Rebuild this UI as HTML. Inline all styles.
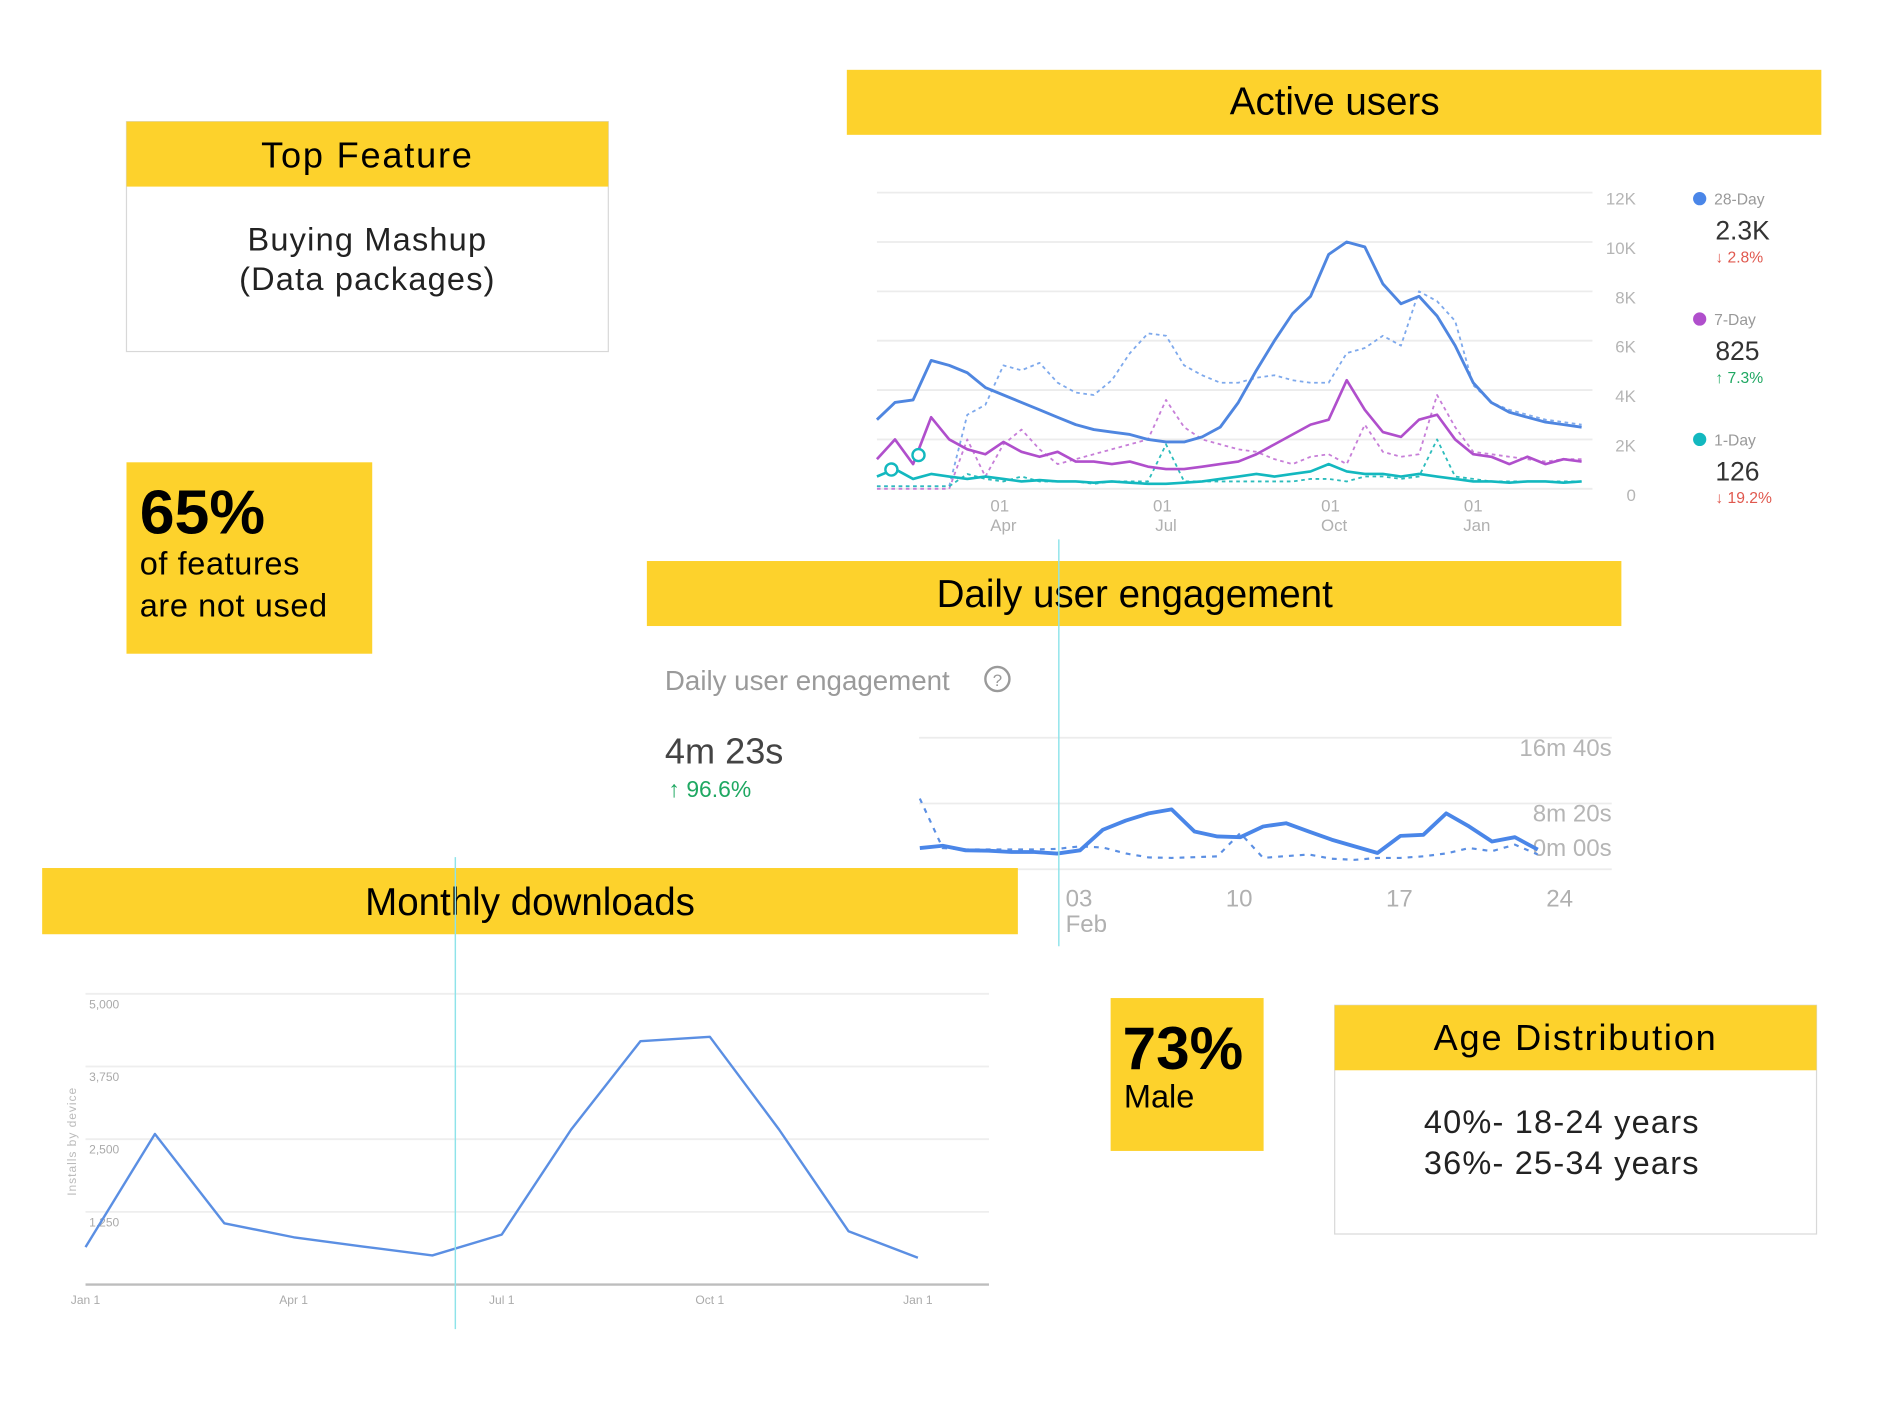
<!DOCTYPE html>
<html><head><meta charset="utf-8"><style>
html,body{margin:0;padding:0;background:#fff;}
svg{display:block;font-family:"Liberation Sans",sans-serif;}
</style></head><body>
<svg id="root" width="1890" height="1417" viewBox="0 0 1569 1177" preserveAspectRatio="none">
<rect width="1569" height="1177" fill="#fff"/>
<!-- Top feature -->
<g>
<rect x="105" y="101" width="400" height="191" fill="#fff" stroke="#d8d8d8"/>
<rect x="105" y="101" width="400" height="54" fill="#fdd22c"/>
<text x="305" y="139" font-size="30" text-anchor="middle" letter-spacing="1.5">Top Feature</text>
<text x="305" y="208" font-size="27" text-anchor="middle" letter-spacing="1" fill="#222">Buying Mashup</text>
<text x="305" y="241" font-size="27" text-anchor="middle" letter-spacing="1" fill="#222">(Data packages)</text>
</g>
<g>
<rect x="105" y="384" width="204" height="159" fill="#fdd22c"/>
<text x="116" y="443" font-size="52" font-weight="bold">65%</text>
<text x="116" y="477" font-size="27" letter-spacing="0.5">of features</text>
<text x="116" y="512" font-size="27" letter-spacing="0.5">are not used</text>
</g>
<!-- Active users -->
<rect x="703" y="58" width="809" height="54" fill="#fdd22c"/>
<text x="1108" y="95" font-size="32" text-anchor="middle">Active users</text>
<g id="au"></g>
<!-- Daily engagement -->
<rect x="537" y="466" width="809" height="54" fill="#fdd22c"/>
<text x="942" y="504" font-size="32" text-anchor="middle">Daily user engagement</text>
<text x="552" y="573" font-size="23" fill="#9a9a9a">Daily user engagement</text>
<circle cx="828" cy="564" r="10" fill="none" stroke="#9a9a9a" stroke-width="2"/>
<text x="828" y="570" font-size="14" fill="#9a9a9a" text-anchor="middle">?</text>
<text x="552" y="634" font-size="30" fill="#444">4m 23s</text>
<text x="555" y="662" font-size="19" fill="#1fa862">↑ 96.6%</text>
<g id="de"></g>
<!-- Monthly downloads -->
<rect x="35" y="721" width="810" height="55" fill="#fdd22c"/>
<text x="440" y="760" font-size="32" text-anchor="middle">Monthly downloads</text>
<g id="md"></g>
<line x1="879" y1="448" x2="879" y2="786" stroke="#8ee3ea" stroke-width="1.2"/>
<line x1="378" y1="712" x2="378" y2="1104" stroke="#8ee3ea" stroke-width="1.2"/>
<!-- 73% -->
<g>
<rect x="922" y="829" width="127" height="127" fill="#fdd22c"/>
<text x="932" y="888" font-size="50" font-weight="bold">73%</text>
<text x="933" y="920" font-size="27">Male</text>
</g>
<g>
<rect x="1108" y="835" width="400" height="190" fill="#fff" stroke="#d8d8d8"/>
<rect x="1108" y="835" width="400" height="54" fill="#fdd22c"/>
<text x="1308" y="872" font-size="30" text-anchor="middle" letter-spacing="1.5">Age Distribution</text>
<text x="1182" y="941" font-size="27" letter-spacing="1" fill="#222">40%- 18-24 years</text>
<text x="1182" y="975" font-size="27" letter-spacing="1" fill="#222">36%- 25-34 years</text>
</g>
</svg>
<script>
const NS="http://www.w3.org/2000/svg";
// ---- Active users data (thousands) ----
const auYTicks=[0,2,4,6,8,10,12];
const auYLabels=["0","2K","4K","6K","8K","10K","12K"];
const auXTickIdx=[6.8,15.8,25.1,33];
const auXTickDay=["01","01","01","01"];
const auXTickMon=["Apr","Jul","Oct","Jan"];
const au28=[2.8,3.5,3.6,5.2,5.0,4.7,4.1,3.8,3.5,3.2,2.9,2.6,2.4,2.3,2.2,2.0,1.9,1.9,2.1,2.5,3.5,4.8,6.0,7.1,7.8,9.5,10.0,9.8,8.3,7.5,7.8,7.0,5.8,4.3,3.5,3.1,2.9,2.7,2.6,2.5];
const au28Prev=[0.1,0.1,0.1,0.1,0.1,3.0,3.4,5.0,4.8,5.1,4.3,3.9,3.8,4.4,5.5,6.3,6.2,5.0,4.6,4.3,4.3,4.5,4.6,4.4,4.3,4.3,5.5,5.7,6.2,5.8,8.0,7.6,6.8,4.2,3.5,3.2,3.0,2.8,2.7,2.6];
const au7=[1.2,2.0,1.0,2.9,2.0,1.6,1.4,1.9,1.5,1.3,1.5,1.1,1.1,1.0,1.1,0.9,0.8,0.8,0.9,1.0,1.1,1.4,1.8,2.2,2.6,2.8,4.4,3.2,2.3,2.1,2.8,3.0,2.0,1.4,1.3,1.0,1.3,1.0,1.2,1.1];
const au7Prev=[0,0,0,0,0,2.0,0.5,1.8,2.4,1.6,1.0,1.2,1.4,1.6,1.8,2.0,3.6,2.5,2.0,1.8,1.6,1.5,1.2,1.0,1.3,1.4,1.0,2.6,1.5,1.3,1.4,3.8,2.5,1.5,1.4,1.3,1.2,1.1,1.2,1.2];
const au1=[0.5,0.8,0.4,0.6,0.5,0.4,0.5,0.4,0.3,0.35,0.3,0.3,0.25,0.3,0.25,0.2,0.2,0.25,0.3,0.4,0.5,0.6,0.5,0.6,0.7,1.0,0.7,0.6,0.6,0.5,0.6,0.5,0.4,0.3,0.3,0.25,0.3,0.3,0.25,0.3];
const au1Prev=[0.1,0.1,0.1,0.1,0.1,0.6,0.4,0.3,0.5,0.3,0.3,0.3,0.2,0.3,0.3,0.3,1.8,0.3,0.3,0.3,0.3,0.3,0.3,0.3,0.4,0.4,0.3,0.5,0.5,0.4,0.5,2.0,0.5,0.4,0.3,0.3,0.3,0.3,0.3,0.3];
// ---- Engagement data (seconds) ----
const deYTicks=[0,500,1000];
const deYLabels=["0m 00s","8m 20s","16m 40s"];
const deXTickIdx=[7,14,21,28];
const deXLabels=["03","10","17","24"];
const deCur=[161,179,144,141,131,131,119,144,300,370,425,455,287,249,244,325,350,287,224,174,124,254,262,425,325,211,244,149];
const dePrev=[538,161,150,150,150,150,155,174,165,120,90,86,92,98,275,86,100,112,80,71,86,86,98,120,161,137,187,112];
// ---- Monthly downloads ----
const mdMonths=["Jan","Feb","Mar","Apr","May","Jun","Jul","Aug","Sep","Oct","Nov","Dec","Jan"];
const mdValues=[644,2591,1054,814,655,501,860,2665,4186,4260,2665,917,461];
const mdYTicks=[0,1250,2500,3750,5000];
const mdYLabels=["","1,250","2,500","3,750","5,000"];
const mdXTickIdx=[0,3,6,9,12];
const mdXLabels=["Jan 1","Apr 1","Jul 1","Oct 1","Jan 1"];

function mk(tag,attrs,parent){const e=document.createElementNS(NS,tag);for(const k in attrs)e.setAttribute(k,attrs[k]);parent.appendChild(e);return e;}
function pathD(arr,xf,yf){return arr.map((v,i)=>(i?"L":"M")+xf(i).toFixed(1)+","+yf(v).toFixed(1)).join("");}

// Active users chart
(function(){
const g=document.getElementById("au");
const x=i=>728+i*(1313-728)/(au28.length-1);
const y=v=>406-v/2*41;
auYTicks.forEach((t,k)=>{
 const l=mk("line",{x1:728,x2:1322,y1:y(t),y2:y(t),stroke:"#ececec","stroke-width":1.5},g);
 
 
 const tx=mk("text",{x:1358,y:y(t)+10,"font-size":14,fill:"#b5b5b5","text-anchor":"end"},g);tx.textContent=auYLabels[k];
 
 
});
auXTickIdx.forEach((t,k)=>{
 const a=mk("text",{x:x(t),y:425,"font-size":14,fill:"#b0b0b0","text-anchor":"middle"},g);a.textContent=auXTickDay[k];
 
 
 const b=mk("text",{x:x(t)+3,y:441,"font-size":14,fill:"#b0b0b0","text-anchor":"middle"},g);b.textContent=auXTickMon[k];
 
 
});
const series=[[au28Prev,"#7ea9ec","3,3",1.5,"28-day-previous-line"],[au7Prev,"#c77ed8","3,3",1.5,"7-day-previous-line"],[au1Prev,"#2cbcbc","3,3",1.5,"1-day-previous-line"],[au1,"#13b8bf",null,2.2,"1-day-line"],[au7,"#b04fcc",null,2.2,"7-day-line"],[au28,"#4f86e0",null,2.4,"28-day-line"]];
series.forEach(s=>{
 const a={d:pathD(s[0],x,y),fill:"none",stroke:s[1],"stroke-width":s[3],"stroke-linejoin":"round"};
 if(s[2])a["stroke-dasharray"]=s[2];
 const p=mk("path",a,g);
 
 
});
const c1=mk("circle",{cx:x(0.8),cy:390,r:5,fill:"#fff",stroke:"#13b8bf","stroke-width":2},g);


const c2=mk("circle",{cx:x(2.3),cy:378,r:5,fill:"#fff",stroke:"#13b8bf","stroke-width":2},g);


const leg=[["28-Day","#4a86e8","2.3K","↓ 2.8%","#e0584e",165],["7-Day","#b04fcc","825","↑ 7.3%","#1fa862",265],["1-Day","#13b8bf","126","↓ 19.2%","#e0584e",365]];
leg.forEach(l=>{
 const lg=mk("g",{},g);
 
 
 mk("circle",{cx:1411,cy:l[5],r:5.5,fill:l[1]},lg);
 const a=mk("text",{x:1423,y:l[5]+5,"font-size":13,fill:"#999"},lg);a.textContent=l[0];
 const b=mk("text",{x:1424,y:l[5]+34,"font-size":22,fill:"#333"},lg);b.textContent=l[2];
 const c=mk("text",{x:1424,y:l[5]+53,"font-size":13,fill:l[4]},lg);c.textContent=l[3];
});
})();

// Engagement chart
(function(){
const g=document.getElementById("de");
const x=i=>763.6+i*19;
const y=v=>722-v/500*54.6;
deYTicks.forEach((t,k)=>{
 const l=mk("line",{x1:763,x2:1338,y1:y(t),y2:y(t),stroke:"#ececec","stroke-width":1.5},g);
 
 
 const ly=k==0?711:y(t)+15;
 const tx=mk("text",{x:1338,y:ly,"font-size":20,fill:"#b5b5b5","text-anchor":"end"},g);tx.textContent=deYLabels[k];
 
 
});
deXTickIdx.forEach((t,k)=>{
 const tx=mk("text",{x:x(t)-12,y:753,"font-size":20,fill:"#b0b0b0"},g);tx.textContent=deXLabels[k];
 
 
});
const fb=mk("text",{x:x(7)-12,y:774,"font-size":20,fill:"#b0b0b0"},g);fb.textContent="Feb";


const p1=mk("path",{d:pathD(dePrev,x,y),fill:"none",stroke:"#5b8fe3","stroke-width":1.8,"stroke-dasharray":"4,5"},g);


const p2=mk("path",{d:pathD(deCur,x,y),fill:"none",stroke:"#4a86e8","stroke-width":3.2,"stroke-linejoin":"round"},g);


})();

// Monthly downloads chart
(function(){
const g=document.getElementById("md");
const x=i=>71+i*(762-71)/12;
const y=v=>1067-v/5000*(1067-825.5);
mdYTicks.forEach((t,k)=>{
 const l=mk("line",{x1:71,x2:821,y1:y(t),y2:y(t),stroke:k==0?"#bdbdbd":"#eeeeee","stroke-width":k==0?2:1.5},g);
 
 
 const tx=mk("text",{x:74,y:y(t)+12,"font-size":10,fill:"#aaa"},g);tx.textContent=mdYLabels[k];
 
 
});
mdXTickIdx.forEach((t,k)=>{
 const tx=mk("text",{x:x(t),y:1083,"font-size":10,fill:"#aaa","text-anchor":"middle"},g);tx.textContent=mdXLabels[k];
 
 
});
const yt=mk("text",{x:0,y:0,"font-size":10,fill:"#bbb","text-anchor":"middle","letter-spacing":"0.8",transform:"translate(63,948) rotate(-90)"},g);
yt.textContent="Installs by device";


const p=mk("path",{d:pathD(mdValues,x,y),fill:"none",stroke:"#5b8fe3","stroke-width":2,"stroke-linejoin":"round"},g);


})();
</script>
</body></html>
